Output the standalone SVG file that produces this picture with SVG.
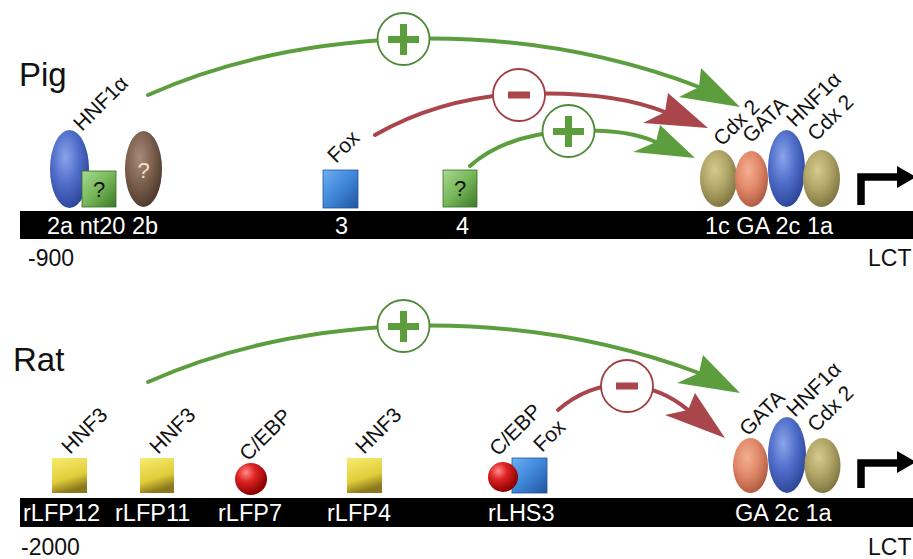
<svg xmlns="http://www.w3.org/2000/svg" width="913" height="559" viewBox="0 0 913 559">
<defs>
<radialGradient id="gBlue" cx="0.4" cy="0.35" r="0.7"><stop offset="0" stop-color="#8aa4ea"/><stop offset="0.5" stop-color="#4f6dc9"/><stop offset="1" stop-color="#2a4294"/></radialGradient>
<radialGradient id="gBrown" cx="0.4" cy="0.35" r="0.7"><stop offset="0" stop-color="#a88a78"/><stop offset="0.5" stop-color="#7d604e"/><stop offset="1" stop-color="#4a372b"/></radialGradient>
<radialGradient id="gOlive" cx="0.4" cy="0.35" r="0.7"><stop offset="0" stop-color="#d6cb8e"/><stop offset="0.5" stop-color="#b0a466"/><stop offset="1" stop-color="#7a713e"/></radialGradient>
<radialGradient id="gSalmon" cx="0.4" cy="0.35" r="0.7"><stop offset="0" stop-color="#f4b093"/><stop offset="0.5" stop-color="#e08868"/><stop offset="1" stop-color="#ab563d"/></radialGradient>
<radialGradient id="gRed" cx="0.35" cy="0.3" r="0.7"><stop offset="0" stop-color="#ff8a8a"/><stop offset="0.4" stop-color="#e02525"/><stop offset="1" stop-color="#8a0000"/></radialGradient>
<linearGradient id="gGreenSq" x1="0" y1="0" x2="1" y2="1"><stop offset="0" stop-color="#a8d890"/><stop offset="0.5" stop-color="#76b658"/><stop offset="1" stop-color="#3c7826"/></linearGradient>
<linearGradient id="gBlueSq" x1="0" y1="0" x2="1" y2="1"><stop offset="0" stop-color="#6eaef2"/><stop offset="0.5" stop-color="#3f86d8"/><stop offset="1" stop-color="#22549f"/></linearGradient>
<linearGradient id="gYellow" x1="0" y1="0" x2="0.3" y2="1"><stop offset="0" stop-color="#f6ec70"/><stop offset="0.65" stop-color="#e2cd3a"/><stop offset="1" stop-color="#8a781c"/></linearGradient>
<style>
.t{font-family:"Liberation Sans",Arial,sans-serif;fill:#111}
.big{font-size:33px}
.lbl{font-size:21px}
.bt{font-size:23.5px;fill:#fff}
.pos{font-size:23px}
.q{font-size:22px;text-anchor:middle}
.bar{fill:#000}
.gl{fill:none;stroke:#5c9e3e;stroke-width:4;stroke-linecap:round}
.rl{fill:none;stroke:#a9464b;stroke-width:4;stroke-linecap:round}
.ga{fill:#5c9e3e}
.ra{fill:#a9464b}
.gc{fill:#fff;stroke:#4f8a38;stroke-width:1.8}
.rc{fill:#fff;stroke:#a03c42;stroke-width:1.8}
.prom{fill:none;stroke:#000;stroke-width:7.5}
</style>
</defs>
<rect width="913" height="559" fill="#fff"/>

<!-- Pig -->
<text class="t big" x="19" y="86">Pig</text>
<g id="pig-dna">
<rect class="bar" x="20" y="211" width="893" height="28"/>
<text class="t bt" x="47" y="234">2a nt20 2b</text>
<text class="t bt" x="335" y="234">3</text>
<text class="t bt" x="456" y="234">4</text>
<text class="t bt" x="705" y="234">1c GA 2c 1a</text>
<text class="t pos" x="28" y="266">-900</text>
<text class="t pos" x="868" y="266">LCT</text>
</g>
<g id="pig-hnf1a-2a">
<ellipse cx="69.5" cy="169" rx="19.5" ry="39" fill="url(#gBlue)"/>
<g transform="translate(82,132) rotate(-45)"><text class="t lbl" x="0" y="0">HNF1α</text></g>
</g>
<g id="pig-nt20">
<rect x="82" y="171" width="34" height="36" fill="url(#gGreenSq)" stroke="#3a6e26" stroke-width="0.8"/>
<text class="t q" x="99" y="197" fill="#1a1a1a">?</text>
</g>
<g id="pig-2b">
<ellipse cx="143.5" cy="169" rx="18.5" ry="38" fill="url(#gBrown)"/>
<text class="t q" x="143.5" y="178" style="fill:#f2e2c8">?</text>
</g>
<g id="pig-fox">
<rect x="323" y="170" width="35" height="38" fill="url(#gBlueSq)" stroke="#22549f" stroke-width="0.8"/>
<g transform="translate(336,164) rotate(-45)"><text class="t lbl" x="0" y="0">Fox</text></g>
</g>
<g id="pig-4">
<rect x="443" y="170" width="34" height="37" fill="url(#gGreenSq)" stroke="#3a6e26" stroke-width="0.8"/>
<text class="t q" x="460" y="196">?</text>
</g>
<g id="pig-promoter">
<ellipse cx="718.5" cy="178.5" rx="18.5" ry="28.5" fill="url(#gOlive)"/>
<ellipse cx="751.5" cy="179" rx="16.5" ry="28" fill="url(#gSalmon)"/>
<ellipse cx="786.5" cy="168.5" rx="18.5" ry="38.5" fill="url(#gBlue)"/>
<ellipse cx="821.5" cy="178.5" rx="18.5" ry="28.5" fill="url(#gOlive)"/>
<g transform="translate(722,147) rotate(-45)"><text class="t lbl" x="0" y="0">Cdx 2</text></g>
<g transform="translate(751,144) rotate(-45)"><text class="t lbl" x="0" y="0">GATA</text></g>
<g transform="translate(795,128) rotate(-45)"><text class="t lbl" x="0" y="0">HNF1α</text></g>
<g transform="translate(816,142) rotate(-45)"><text class="t lbl" x="0" y="0">Cdx 2</text></g>
<path class="prom" d="M861,205 V177 H900"/>
<polygon points="897,166 897,188 916,177" fill="#000"/>
</g>

<!-- Rat -->
<text class="t big" x="13" y="371">Rat</text>
<g id="rat-dna">
<rect class="bar" x="20" y="498" width="893" height="29"/>
<text class="t bt" x="23" y="521">rLFP12</text>
<text class="t bt" x="115" y="521">rLFP11</text>
<text class="t bt" x="218" y="521">rLFP7</text>
<text class="t bt" x="327" y="521">rLFP4</text>
<text class="t bt" x="488" y="521">rLHS3</text>
<text class="t bt" x="735" y="521">GA 2c 1a</text>
<text class="t pos" x="21" y="555">-2000</text>
<text class="t pos" x="868" y="555">LCT</text>
</g>
<g id="rat-lfp12">
<rect x="52" y="458" width="35" height="35" fill="url(#gYellow)"/>
<g transform="translate(70,455) rotate(-45)"><text class="t lbl" x="0" y="0">HNF3</text></g>
</g>
<g id="rat-lfp11">
<rect x="140" y="458" width="34" height="35" fill="url(#gYellow)"/>
<g transform="translate(158,455) rotate(-45)"><text class="t lbl" x="0" y="0">HNF3</text></g>
</g>
<g id="rat-lfp7">
<circle cx="251" cy="479" r="16" fill="url(#gRed)"/>
<g transform="translate(248,462) rotate(-45)"><text class="t lbl" x="0" y="0">C/EBP</text></g>
</g>
<g id="rat-lfp4">
<rect x="347" y="458" width="35" height="35" fill="url(#gYellow)"/>
<g transform="translate(364,455) rotate(-45)"><text class="t lbl" x="0" y="0">HNF3</text></g>
</g>
<g id="rat-lhs3">
<rect x="512" y="458" width="35" height="35" fill="url(#gBlueSq)" stroke="#22549f" stroke-width="0.8"/>
<circle cx="503" cy="477" r="15" fill="url(#gRed)"/>
<g transform="translate(498,457) rotate(-45)"><text class="t lbl" x="0" y="0">C/EBP</text></g>
<g transform="translate(542,453) rotate(-45)"><text class="t lbl" x="0" y="0">Fox</text></g>
</g>
<g id="rat-promoter">
<ellipse cx="750.5" cy="465.5" rx="17.5" ry="27.5" fill="url(#gSalmon)"/>
<ellipse cx="787" cy="455" rx="19" ry="38" fill="url(#gBlue)"/>
<ellipse cx="822.5" cy="465.5" rx="18" ry="27.5" fill="url(#gOlive)"/>
<g transform="translate(748,437) rotate(-45)"><text class="t lbl" x="0" y="0">GATA</text></g>
<g transform="translate(795,418) rotate(-45)"><text class="t lbl" x="0" y="0">HNF1α</text></g>
<g transform="translate(816,433) rotate(-45)"><text class="t lbl" x="0" y="0">Cdx 2</text></g>
<path class="prom" d="M861,488 V463 H900"/>
<polygon points="897,451 897,473 916,462" fill="#000"/>
</g>

<!-- connectors -->
<g id="connectors">
<path class="gl" d="M148,95 Q260,45 403,39 Q560,34 699,87"/>
<polygon class="ga" points="740,107 701,68 699,87 679,97"/>
<circle class="gc" cx="403.5" cy="39" r="26"/>
<path class="ga" d="M400,24 h7 v12 h12 v7 h-12 v12 h-7 v-12 h-12 v-7 h12 z"/>

<path class="rl" d="M375,135 Q440,98 519,94 Q610,90 665,112"/>
<polygon class="ra" points="708,128 668,93 665,112 643,123"/>
<circle class="rc" cx="519" cy="95" r="26"/>
<rect class="ra" x="508" y="91.5" width="22" height="7"/>

<path class="gl" d="M470,166 Q505,135 568,131 Q625,128 656,142"/>
<polygon class="ga" points="695,158 660,125 656,142 633,152"/>
<circle class="gc" cx="568.5" cy="131" r="26"/>
<path class="ga" d="M565,116 h7 v12 h12 v7 h-12 v12 h-7 v-12 h-12 v-7 h12 z"/>

<path class="gl" d="M148,382 Q260,332 403,326 Q560,321 699,373"/>
<polygon class="ga" points="740,393 703,355 699,373 677,383"/>
<circle class="gc" cx="403.5" cy="326" r="26"/>
<path class="ga" d="M400,311 h7 v12 h12 v7 h-12 v12 h-7 v-12 h-12 v-7 h12 z"/>

<path class="rl" d="M558,410 Q590,383 627,385 Q662,388 688,410"/>
<polygon class="ra" points="725,438 695,393 688,410 665,415"/>
<circle class="rc" cx="627" cy="386" r="26"/>
<rect class="ra" x="616" y="382.5" width="22" height="7"/>
</g>
</svg>
